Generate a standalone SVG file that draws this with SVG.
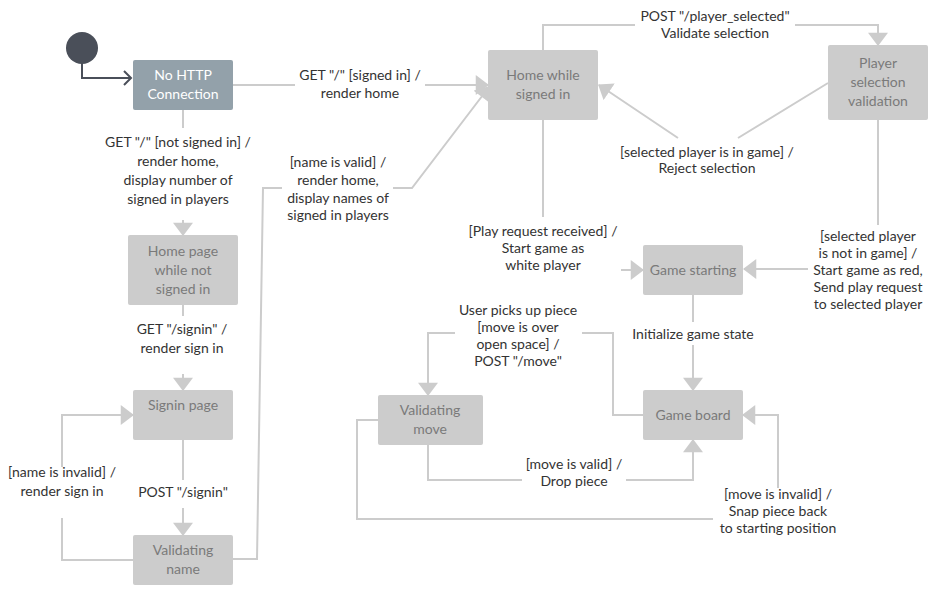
<svg xmlns="http://www.w3.org/2000/svg" width="937" height="594" viewBox="0 0 937 594">
<defs>
<style>
.node rect{fill:#cccccc;}
.node text{font-family:Lato,"Open Sans","Liberation Sans",sans-serif;font-size:14px;fill:#7a7a7a;text-anchor:middle;}
#n_nohttp rect{fill:#93a1aa;}
#n_nohttp text{fill:#ffffff;}
.edge{fill:none;stroke:#cccccc;stroke-width:2;}
.lbl{font-family:Lato,"Open Sans","Liberation Sans",sans-serif;font-size:14px;fill:#333333;text-anchor:middle;}
</style>
<marker id="ah" markerUnits="userSpaceOnUse" markerWidth="14" markerHeight="20" viewBox="0 -9 12 18" refX="11" refY="0" orient="auto">
<path d="M0,-9 L12,0 L0,9 z" fill="#cccccc"/>
</marker>
</defs>
<rect width="937" height="594" fill="#ffffff"/>

<g id="start">
<circle cx="82" cy="48" r="16" fill="#4a4f59"/>
<path d="M82,62 V78 H131" fill="none" stroke="#4a4f59" stroke-width="2"/>
<path d="M124,71 L131,78 L124,85" fill="none" stroke="#4a4f59" stroke-width="2"/>
</g>

<g id="connectors">
<path class="edge" d="M233,85 H295 M425,85 H488" marker-end="url(#ah)"/>
<path class="edge" d="M183,110 V128 M183,220 V235" marker-end="url(#ah)"/>
<path class="edge" d="M183,305 V316 M183,374 V390" marker-end="url(#ah)"/>
<path class="edge" d="M183,440 V480 M183,508 V535" marker-end="url(#ah)"/>
<path class="edge" d="M133,560 H62 V518 M62,467 V415 H133" marker-end="url(#ah)"/>
<path class="edge" d="M233,559 H257 L263,188 H282 M393,188 H412 L489,87" marker-end="url(#ah)"/>
<path class="edge" d="M543,50 V25 H635 M795,25 H878 V45" marker-end="url(#ah)"/>
<path class="edge" d="M828,83 L738,138 M678,138 L599,85" marker-end="url(#ah)"/>
<path class="edge" d="M543,120 V217 M621,270 H643" marker-end="url(#ah)"/>
<path class="edge" d="M878,120 V225 M808,269 H744" marker-end="url(#ah)"/>
<path class="edge" d="M693,295 V322 M693,345 V390" marker-end="url(#ah)"/>
<path class="edge" d="M643,415 H613 V333 H582 M455,333 H428 V395" marker-end="url(#ah)"/>
<path class="edge" d="M428,445 V480 H522 M626,480 H693 V440" marker-end="url(#ah)"/>
<path class="edge" d="M378,420 H357 V519 H713 M778,488 V415 H743" marker-end="url(#ah)"/>

<text class="lbl" x="360" y="80">GET "/" [signed in] /</text>
<text class="lbl" x="360" y="98">render home</text>

<text class="lbl" x="178" y="147">GET "/" [not signed in] /</text>
<text class="lbl" x="178" y="166">render home,</text>
<text class="lbl" x="178" y="185">display number of</text>
<text class="lbl" x="178" y="204">signed in players</text>

<text class="lbl" x="182" y="334">GET "/signin" /</text>
<text class="lbl" x="182" y="353">render sign in</text>

<text class="lbl" x="183" y="497">POST "/signin"</text>

<text class="lbl" x="62" y="477">[name is invalid] /</text>
<text class="lbl" x="62" y="496">render sign in</text>

<text class="lbl" x="338" y="167">[name is valid] /</text>
<text class="lbl" x="338" y="185">render home,</text>
<text class="lbl" x="338" y="203">display names of</text>
<text class="lbl" x="338" y="220">signed in players</text>

<text class="lbl" x="715" y="21">POST "/player_selected"</text>
<text class="lbl" x="715" y="38">Validate selection</text>

<text class="lbl" x="707" y="157">[selected player is in game] /</text>
<text class="lbl" x="707" y="173">Reject selection</text>

<text class="lbl" x="543" y="236">[Play request received] /</text>
<text class="lbl" x="543" y="253">Start game as</text>
<text class="lbl" x="543" y="270">white player</text>

<text class="lbl" x="868" y="241">[selected player</text>
<text class="lbl" x="868" y="258">is not in game] /</text>
<text class="lbl" x="868" y="275">Start game as red,</text>
<text class="lbl" x="868" y="292">Send play request</text>
<text class="lbl" x="868" y="309">to selected player</text>

<text class="lbl" x="693" y="339">Initialize game state</text>

<text class="lbl" x="518" y="315">User picks up piece</text>
<text class="lbl" x="518" y="332">[move is over</text>
<text class="lbl" x="518" y="349">open space] /</text>
<text class="lbl" x="518" y="366">POST "/move"</text>

<text class="lbl" x="574" y="469">[move is valid] /</text>
<text class="lbl" x="574" y="486">Drop piece</text>

<text class="lbl" x="778" y="499">[move is invalid] /</text>
<text class="lbl" x="778" y="516">Snap piece back</text>
<text class="lbl" x="778" y="533">to starting position</text>
</g>

<g id="n_nohttp" class="node">
<rect x="133" y="60" width="100" height="50" rx="2"/>
<text x="183" y="80">No HTTP</text>
<text x="183" y="99">Connection</text>
</g>
<g id="n_home_not_signed" class="node">
<rect x="128" y="235" width="110" height="70" rx="2"/>
<text x="183" y="256">Home page</text>
<text x="183" y="275">while not</text>
<text x="183" y="294">signed in</text>
</g>
<g id="n_signin" class="node">
<rect x="133" y="390" width="100" height="50" rx="2"/>
<text x="183" y="410">Signin page</text>
</g>
<g id="n_validating_name" class="node">
<rect x="133" y="535" width="100" height="50" rx="2"/>
<text x="183" y="555">Validating</text>
<text x="183" y="574">name</text>
</g>
<g id="n_home_signed" class="node">
<rect x="488" y="50" width="110" height="70" rx="2"/>
<text x="543" y="80">Home while</text>
<text x="543" y="99">signed in</text>
</g>
<g id="n_player_sel" class="node">
<rect x="828" y="45" width="100" height="75" rx="2"/>
<text x="878" y="68">Player</text>
<text x="878" y="87">selection</text>
<text x="878" y="106">validation</text>
</g>
<g id="n_game_starting" class="node">
<rect x="643" y="245" width="100" height="50" rx="2"/>
<text x="693" y="275">Game starting</text>
</g>
<g id="n_game_board" class="node">
<rect x="643" y="390" width="100" height="50" rx="2"/>
<text x="693" y="420">Game board</text>
</g>
<g id="n_validating_move" class="node">
<rect x="378" y="395" width="105" height="50" rx="2"/>
<text x="430" y="415">Validating</text>
<text x="430" y="434">move</text>
</g>
</svg>
